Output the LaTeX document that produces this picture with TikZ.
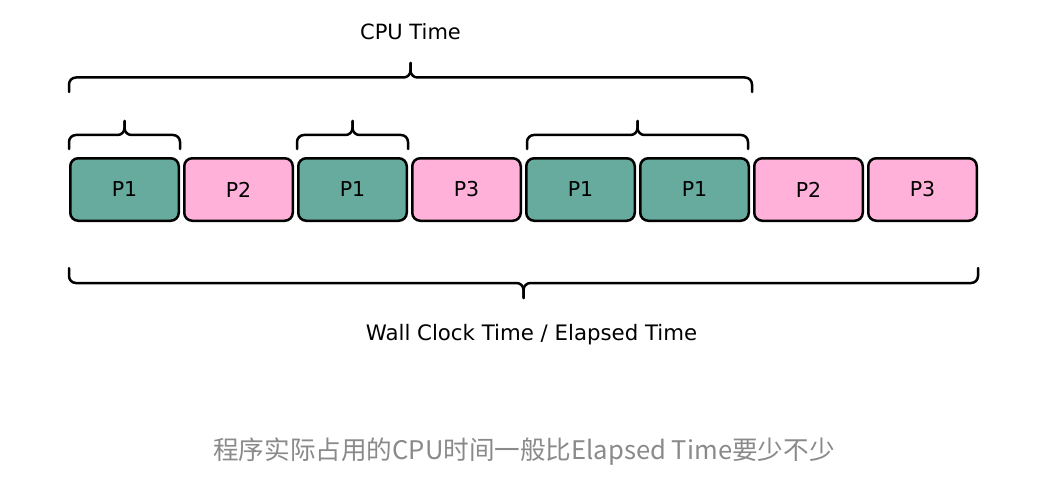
\documentclass[tikz,border=0pt]{standalone}
\usepackage{fontspec}
\setmainfont{DejaVu Sans}
\newfontfamily\cjk{Noto Sans CJK SC}
\usetikzlibrary{positioning,calc}
\definecolor{procgreen}{RGB}{103,171,159}
\definecolor{procpink}{RGB}{255,177,217}
\definecolor{capgray}{RGB}{138,138,138}

\tikzset{
  slice/.style={draw,line width=2.5pt,rounded corners=8pt,minimum width=108.5pt,minimum height=62.5pt,font=\fontsize{20.5}{24}\selectfont},
  busy/.style={slice,fill=procgreen},
  idle/.style={slice,fill=procpink},
  brace/.style={line width=2.5pt,rounded corners=7pt,line cap=round}
}
% curly brace between two points, #3 = half height (signed)
\newcommand{\curly}[3]{%
  \draw[brace] (#1) -- ++(0,#3) -| ($(#1)!0.5!(#2)+(0,2*#3)$);
  \draw[brace] (#2) -- ++(0,#3) -| ($(#1)!0.5!(#2)+(0,2*#3)$);}

\begin{document}
\begin{tikzpicture}[node distance=3pt]
  \useasboundingbox[fill=white] (0,0) rectangle (1041pt,-484pt);
  \node[busy] (s1) at (124.5pt,-189.5pt) {P1};
  \node[idle,right=of s1] (s2) {P2};
  \node[busy,right=of s2] (s3) {P1};
  \node[idle,right=of s3] (s4) {P3};
  \node[busy,right=of s4] (s5) {P1};
  \node[busy,right=of s5] (s6) {P1};
  \node[idle,right=of s6] (s7) {P2};
  \node[idle,right=of s7] (s8) {P3};
  % small braces over the P1 runs
  \coordinate (r1L) at ($(s1.north west)+(0,8pt)$);
  \coordinate (r1R) at ($(s1.north east)+(0,8pt)$);
  \coordinate (r2L) at ($(s3.north west)+(0,8pt)$);
  \coordinate (r2R) at ($(s3.north east)+(0,8pt)$);
  \coordinate (r3L) at ($(s5.north west)+(2pt,8pt)$);
  \coordinate (r3R) at ($(s6.north east)+(-2pt,8pt)$);
  \curly{r1L}{r1R}{14pt}
  \curly{r2L}{r2R}{14pt}
  \curly{r3L}{r3R}{14pt}
  % cpu time
  \coordinate (cpuL) at ($(s1.north west)+(0,65pt)$);
  \coordinate (cpuR) at ($(s6.north east)+(2pt,65pt)$);
  \curly{cpuL}{cpuR}{14.5pt}
  \node[font=\fontsize{21}{24}\selectfont] (cpu) at ($(cpuL)!0.5!(cpuR)+(0,60pt)$) {CPU Time};
  % wall clock
  \coordinate (wallL) at ($(s1.south west)+(0,-46pt)$);
  \coordinate (wallR) at ($(s8.south east)+(0,-46pt)$);
  \curly{wallL}{wallR}{-15pt}
  \node[font=\fontsize{21.3}{24}\selectfont] (wall) at ($(wallL)!0.5!(wallR)+(8pt,-67pt)$) {Wall Clock Time / Elapsed Time};
  \node[font=\cjk\fontsize{25.6}{30}\selectfont,text=capgray] (note) at (524pt,-452pt) {程序实际占用的CPU时间一般比Elapsed Time要少不少};
\end{tikzpicture}
\end{document}
